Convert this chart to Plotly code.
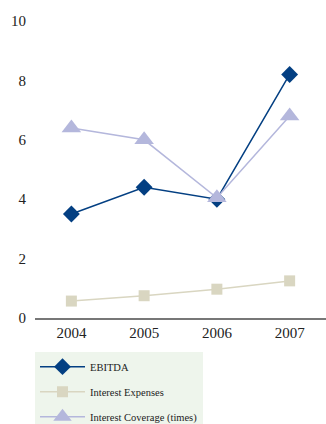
import plotly.graph_objects as go

years = ["2004", "2005", "2006", "2007"]
ebitda = [3.5, 4.4, 4.0, 8.2]
interest_expenses = [0.57, 0.75, 0.97, 1.25]
interest_coverage = [6.4, 6.0, 4.05, 6.8]
y_ticks = [0, 2, 4, 6, 8, 10]

SERIF = "Liberation Serif, Times New Roman, serif"

fig = go.Figure()
fig.add_trace(go.Scatter(x=years, y=ebitda, name="EBITDA", mode="lines+markers",
                         line=dict(color="#033f82", width=1.5),
                         marker=dict(symbol="diamond", size=13, color="#033f82"),
                         legendgroup="a"))
fig.add_trace(go.Scatter(x=years, y=interest_expenses, name="Interest Expenses", mode="lines+markers",
                         line=dict(color="#d9d6c1", width=1.5),
                         marker=dict(symbol="square", size=11, color="#d9d6c1"),
                         legendgroup="b"))
fig.add_trace(go.Scatter(x=years, y=interest_coverage, name="Interest Coverage (times)", mode="lines+markers",
                         line=dict(color="#b4b7dc", width=1.5),
                         marker=dict(symbol="triangle-up", size=17, color="#b4b7dc"),
                         legendgroup="c"))

fig.update_layout(
    width=326, height=424,
    margin=dict(l=35, r=0, t=21, b=106, autoexpand=False),
    plot_bgcolor="white", paper_bgcolor="white",
    font=dict(family=SERIF, color="#222222"),
    xaxis=dict(type="category", range=[-0.5, 3.5], showgrid=False, zeroline=False,
               showline=True, linecolor="#777777", linewidth=2,
               tickfont=dict(size=15, family=SERIF, color="#222222"), ticks=""),
    yaxis=dict(range=[0, 10], tickvals=y_ticks, showgrid=False, zeroline=False,
               showline=False, tickfont=dict(size=15, family=SERIF, color="#222222"),
               ticks="", ticklabelstandoff=8),
    showlegend=True,
    legend=dict(x=0, xanchor="left", y=-0.115, yanchor="top",
                bgcolor="#eef5ec", font=dict(size=10.5, family=SERIF, color="#222222"),
                tracegroupgap=6, itemsizing="trace", itemwidth=45),
)

fig.write_html("out.html")
